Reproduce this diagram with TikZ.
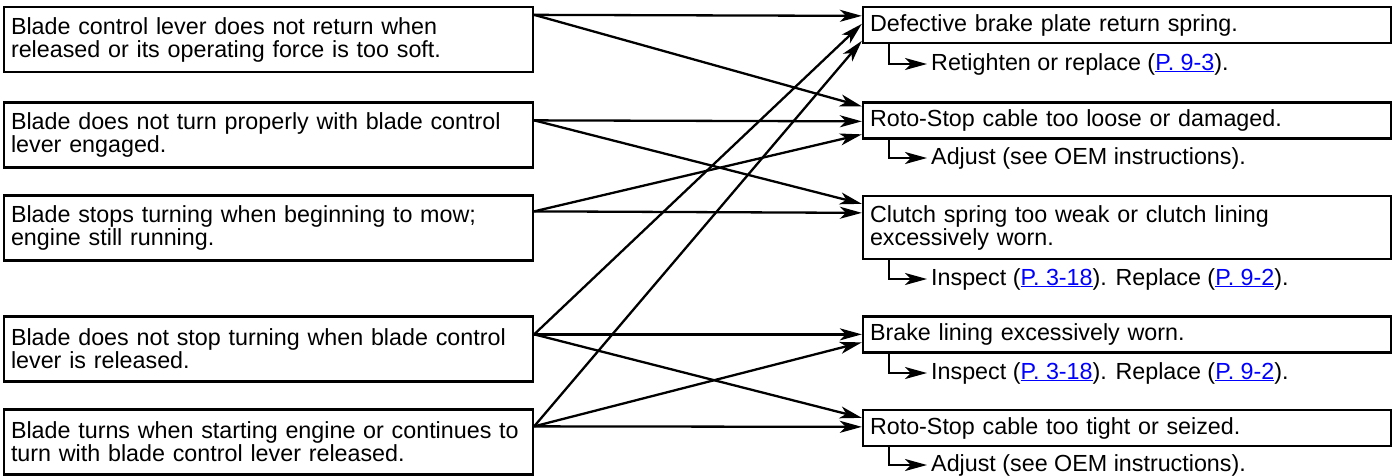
\documentclass[tikz,border=0pt]{standalone}
\usepackage{fontspec}
\setmainfont{Liberation Sans}
\usetikzlibrary{arrows.meta}
\definecolor{linkblue}{RGB}{0,0,255}
\newcommand{\pglink}[1]{\textcolor{linkblue}{\underline{#1}}}

\begin{document}
\begin{tikzpicture}[x=1pt,y=-1pt,
  font=\fontsize{23.3pt}{23pt}\selectfont,
  symptom/.style={draw, line width=2.3pt, rectangle, text width=515pt, inner xsep=7pt, inner ysep=0pt, align=left, minimum height=65pt},
  cause/.style={draw, line width=2.3pt, rectangle, text width=514pt, inner xsep=7pt, inner ysep=0pt, align=left, minimum height=36pt},
  remedy/.style={anchor=west, inner xsep=4pt, inner ysep=0pt, text height=17pt, text depth=5pt},
  conn/.style={line width=2.3pt, -{Stealth[length=22pt,width=12pt,inset=6pt]}}]
\useasboundingbox (0,0) rectangle (1395,475);
% symptoms
\node[symptom] (l1) at (268.5,39.5) {Blade control lever does not return when\\released or its operating force is too soft.};
\node[symptom] (l2) at (268.5,135) {Blade does not turn properly with blade control\\lever engaged.};
\node[symptom] (l3) at (268.5,228) {Blade stops turning when beginning to mow;\\engine still running.};
\node[symptom] (l4) at (268.5,349) {Blade does not stop turning when blade control\\lever is released.};
\node[symptom] (l5) at (268.5,442) {Blade turns when starting engine or continues to\\turn with blade control lever released.};
% causes
\node[cause] (r1) at (1127,25) {Defective brake plate return spring.};
\node[cause] (r2) at (1127,120.5) {Roto-Stop cable too loose or damaged.};
\node[cause, minimum height=63pt] (r3) at (1127,227.5) {Clutch spring too weak or clutch lining\\excessively worn.};
\node[cause] (r4) at (1127,334.5) {Brake lining excessively worn.};
\node[cause] (r5) at (1127,428) {Roto-Stop cable too tight or seized.};
% remedies
\node[remedy] (m1) at (927,64) {Retighten or replace (\pglink{P. 9-3}).};
\node[remedy] (m2) at (927,158) {Adjust (see OEM instructions).};
\node[remedy] (m3) at (927,279) {Inspect (\pglink{P. 3-18}). Replace (\pglink{P. 9-2}).};
\node[remedy] (m4) at (927,373) {Inspect (\pglink{P. 3-18}). Replace (\pglink{P. 9-2}).};
\node[remedy] (m5) at (927,465) {Adjust (see OEM instructions).};
\draw[conn] ([xshift=27pt]r1.south west) |- (m1.west);
\draw[conn] ([xshift=27pt]r2.south west) |- (m2.west);
\draw[conn] ([xshift=27pt]r3.south west) |- (m3.west);
\draw[conn] ([xshift=27pt]r4.south west) |- (m4.west);
\draw[conn] ([xshift=27pt]r5.south west) |- (m5.west);
% symptom -> cause
\draw[conn] ([yshift=-9pt]l1.north east) -- ([yshift=-10pt]r1.north west);
\draw[conn] ([yshift=-9pt]l1.north east) -- ([yshift=-5pt]r2.north west);
\draw[conn] ([yshift=-19pt]l2.north east) -- ([yshift=-20pt]r2.north west);
\draw[conn] ([yshift=-19pt]l2.north east) -- ([yshift=-9pt]r3.north west);
\draw[conn] ([yshift=-17pt]l3.north east) -- ([yshift=-33pt]r2.north west);
\draw[conn] ([yshift=-17pt]l3.north east) -- ([yshift=-18pt]r3.north west);
\draw[conn] ([yshift=-19pt]l4.north east) -- ([yshift=-18pt]r1.north west);
\draw[conn] ([yshift=-19pt]l4.north east) -- ([yshift=-19pt]r4.north west);
\draw[conn] ([yshift=-19pt]l4.north east) -- ([yshift=-9pt]r5.north west);
\draw[conn] ([yshift=-18pt]l5.north east) -- ([yshift=-35pt]r1.north west);
\draw[conn] ([yshift=-18pt]l5.north east) -- ([yshift=-27pt]r4.north west);
\draw[conn] ([yshift=-18pt]l5.north east) -- ([yshift=-18pt]r5.north west);
\end{tikzpicture}
\end{document}
